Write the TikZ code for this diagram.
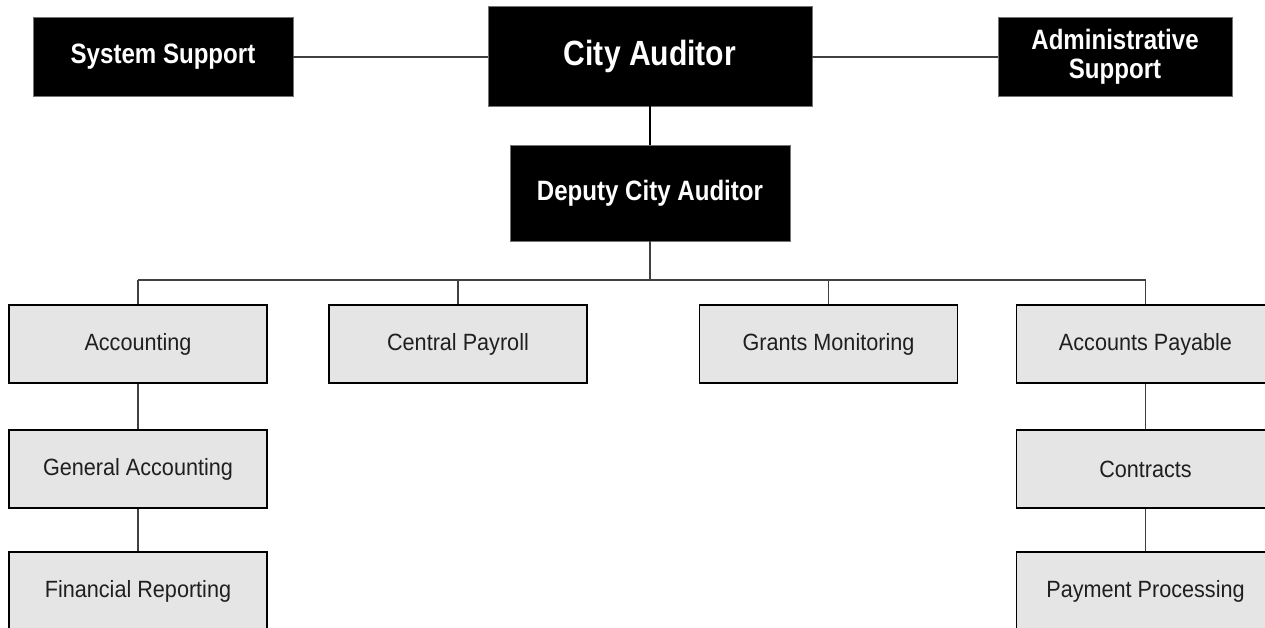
\documentclass[tikz,border=0pt]{standalone}
\usepackage{fontspec}
\setmainfont{Liberation Sans}
\newfontfamily\condfont{Liberation Sans}[FakeStretch=0.86]
\newfontfamily\unitfont{Liberation Sans}[FakeStretch=0.92]
\begin{document}
\begin{tikzpicture}[x=1pt,y=-1pt,
  topbox/.style={draw=black!55, line width=0.8pt, fill=black, text=white,
    font=\condfont\bfseries\fontsize{28}{29}\selectfont, inner sep=0pt, align=center},
  unitbox/.style={draw=black, line width=1.8pt, fill=black!10, text=black!88,
    font=\unitfont\fontsize{23.5}{26}\selectfont, inner sep=0pt,
    minimum width=258pt, minimum height=78pt},
  conn/.style={draw=black!75, line width=1.1pt},
  thickconn/.style={draw=black, line width=2pt}]
\clip (0,0) rectangle (1265,628);
\fill[white] (0,0) rectangle (1265,628);
% top level
\node[topbox, minimum width=260pt, minimum height=79pt] (sys) at (163,57) {System Support};
\node[topbox, minimum width=324pt, minimum height=100pt, font=\condfont\bfseries\fontsize{35}{36}\selectfont] (city) at (650,56) {City Auditor};
\node[topbox, minimum width=234pt, minimum height=79pt] (admin) at (1115,57) {Administrative\\Support};
\node[topbox, minimum width=280pt, minimum height=96pt] (dep) at (650,193) {Deputy City Auditor};
% units
\node[unitbox] (acc) at (138,344) {Accounting};
\node[unitbox] (cp) at (458,344) {Central Payroll};
\node[unitbox] (gm) at (828.5,344) {Grants Monitoring};
\node[unitbox] (ap) at (1145.5,344) {Accounts Payable};
\node[unitbox] (ga) at (138,469) {General Accounting};
\node[unitbox] (fr) at (138,591) {Financial Reporting};
\node[unitbox] (con) at (1145.5,469) {Contracts};
\node[unitbox] (pp) at (1145.5,591) {Payment Processing};
% connectors
\coordinate (busL) at (138,280);
\coordinate (busR) at (1145.5,280);
\draw[conn] (sys.east) -- (sys.east -| city.west);
\draw[conn] (admin.west -| city.east) -- (admin.west);
\draw[thickconn] (city.south) -- (dep.north);
\draw[conn] (dep.south) -- (dep.south |- busL);
\draw[conn] (busL) -- (busR);
\draw[conn] (acc.north) -- (acc.north |- busL);
\draw[conn] (cp.north) -- (cp.north |- busL);
\draw[conn] (gm.north) -- (gm.north |- busL);
\draw[conn] (ap.north) -- (ap.north |- busL);
\draw[conn] (acc.south) -- (ga.north);
\draw[conn] (ga.south) -- (fr.north);
\draw[conn] (ap.south) -- (con.north);
\draw[conn] (con.south) -- (pp.north);
\end{tikzpicture}
\end{document}
